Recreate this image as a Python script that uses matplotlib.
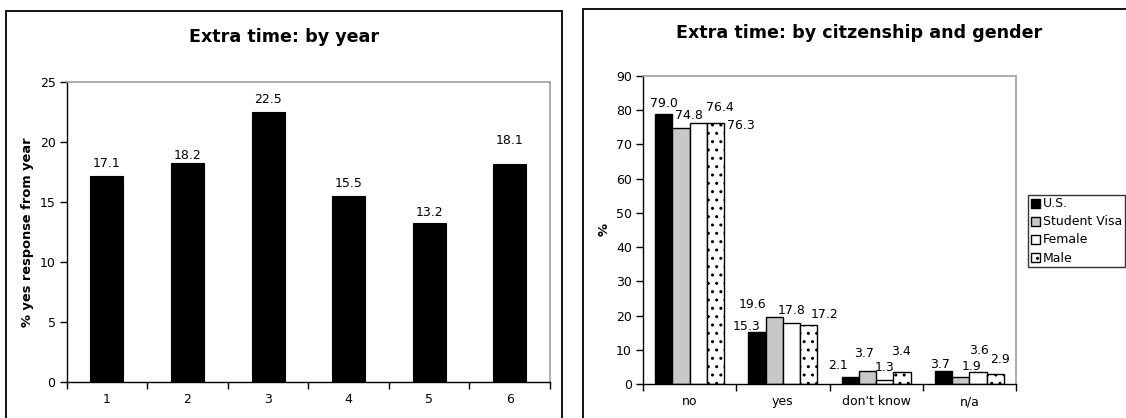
"""Extra time survey answers: by year and by citizenship/gender."""

import matplotlib

matplotlib.use("Agg")
import matplotlib.pyplot as plt
import numpy as np
from matplotlib.patches import Rectangle

plt.rcParams["font.family"] = ["DejaVu Sans"]
plt.rcParams["hatch.linewidth"] = 1.0

# year panel
years = ["1", "2", "3", "4", "5", "6"]
year_yes = [17.1, 18.2, 22.5, 15.5, 13.2, 18.1]

# citizenship / gender panel
answers = ["no", "yes", "don't know", "n/a"]
groups = ["U.S.", "Student Visa", "Female", "Male"]
us = [79.0, 15.3, 2.1, 3.7]
student_visa = [74.8, 19.6, 3.7, 1.9]
female = [76.4, 17.8, 1.3, 3.6]
male = [76.3, 17.2, 3.4, 2.9]

W, H = 1126, 418
DPI = 100
FS = 9
TITLE_FS = 12.6


def px_box(x0, y0, x1, y1):
    """Pixel rectangle (top-left origin) -> figure fraction [l, b, w, h]."""
    return [x0 / W, 1 - y1 / H, (x1 - x0) / W, (y1 - y0) / H]


def style_axes(ax):
    for side in ("top", "right"):
        ax.spines[side].set_color("#a0a0a0")
        ax.spines[side].set_linewidth(1.2)
    for side in ("left", "bottom"):
        ax.spines[side].set_color("black")
        ax.spines[side].set_linewidth(1.0)
    ax.tick_params(axis="y", direction="out", length=5, width=1, labelsize=FS, pad=3)
    ax.tick_params(axis="x", which="major", length=0, labelsize=FS, pad=8)
    ax.tick_params(axis="x", which="minor", direction="out", length=5, width=1)


def frame(x0, y0, x1, y1):
    fig.add_artist(
        Rectangle(
            (x0 / W, 1 - y1 / H),
            (x1 - x0) / W,
            (y1 - y0) / H,
            transform=fig.transFigure,
            fill=False,
            edgecolor="black",
            linewidth=1.3,
        )
    )


fig = plt.figure(figsize=(W / DPI, H / DPI), dpi=DPI)
fig.patch.set_facecolor("white")

frame(6, 10.7, 561.7, 440)
frame(583, 9.3, 1140, 440)

# ---- left: by year ----
ax1 = fig.add_axes(px_box(66.7, 81.7, 550, 381.7))
x = np.arange(len(years))
ax1.bar(x, year_yes, width=0.41, color="black", edgecolor="black", linewidth=0.8)
ax1.set_xlim(-0.5, len(years) - 0.5)
ax1.set_ylim(0, 25)
ax1.set_yticks(np.arange(0, 26, 5))
ax1.set_xticks(x, years)
ax1.set_xticks(np.arange(-0.5, len(years)), minor=True)
style_axes(ax1)
ax1.set_ylabel("% yes response from year", fontsize=9.4, fontweight="bold", labelpad=4)
fig.text(283.9 / W, 1 - 36.7 / H, "Extra time: by year", ha="center", va="center",
         fontsize=TITLE_FS, fontweight="bold")

year_label_shift = [(0, 2), (0, -3), (0, 2), (0, 2), (0, 0), (0, 13)]
for xi, val, (dx, dy) in zip(x, year_yes, year_label_shift):
    ax1.annotate(f"{val:.1f}", (xi, val), xytext=(dx, 4 + dy),
                 textcoords="offset pixels", ha="center", va="bottom", fontsize=FS)

# ---- right: by citizenship and gender ----
ax2 = fig.add_axes(px_box(643, 76, 1016, 384))
series = [us, student_visa, female, male]
fills = ["black", "#c8c8c8", "white", "white"]
hatches = [None, None, None, ".."]
bar_w = 0.185
xc = np.arange(len(answers))
label_shift = [
    [(0, 0), (-10, -5), (-12, 1), (-3, -4)],
    [(8, 2), (-22, 2), (-3, 7), (11, 0)],
    [(22, 5), (0, 2), (0, 2), (1, 11)],
    [(25, -13), (16, 0), (-1, 10), (5, 4)],
]
for i, (vals, fc, hatch, name) in enumerate(zip(series, fills, hatches, groups)):
    pos = xc + (i - 1.5) * bar_w
    ax2.bar(pos, vals, width=bar_w, color=fc, edgecolor="black", linewidth=1.0,
            hatch=hatch, label=name)
    for p, val, (dx, dy) in zip(pos, vals, label_shift[i]):
        ax2.annotate(f"{val:.1f}", (p, val), xytext=(dx, 4 + dy),
                     textcoords="offset pixels", ha="center", va="bottom", fontsize=FS)

ax2.set_xlim(-0.5, len(answers) - 0.5)
ax2.set_ylim(0, 90)
ax2.set_yticks(np.arange(0, 91, 10))
ax2.set_xticks(xc, answers)
ax2.set_xticks(np.arange(-0.5, len(answers)), minor=True)
style_axes(ax2)
ax2.set_ylabel("%", fontsize=9.4, fontweight="bold", labelpad=4)
fig.text(859 / W, 1 - 33.3 / H, "Extra time: by citzenship and gender", ha="center",
         va="center", fontsize=TITLE_FS, fontweight="bold")

leg = ax2.legend(
    loc="upper left",
    bbox_to_anchor=(1028 / W, 1 - 195 / H),
    bbox_transform=fig.transFigure,
    fontsize=FS,
    frameon=True,
    fancybox=False,
    handlelength=0.75,
    handleheight=0.75,
    handletextpad=0.25,
    labelspacing=0.4,
    borderpad=0.2,
    borderaxespad=0,
)
leg.get_frame().set_edgecolor("black")
leg.get_frame().set_linewidth(1.0)

fig.savefig("out.png", dpi=DPI)
